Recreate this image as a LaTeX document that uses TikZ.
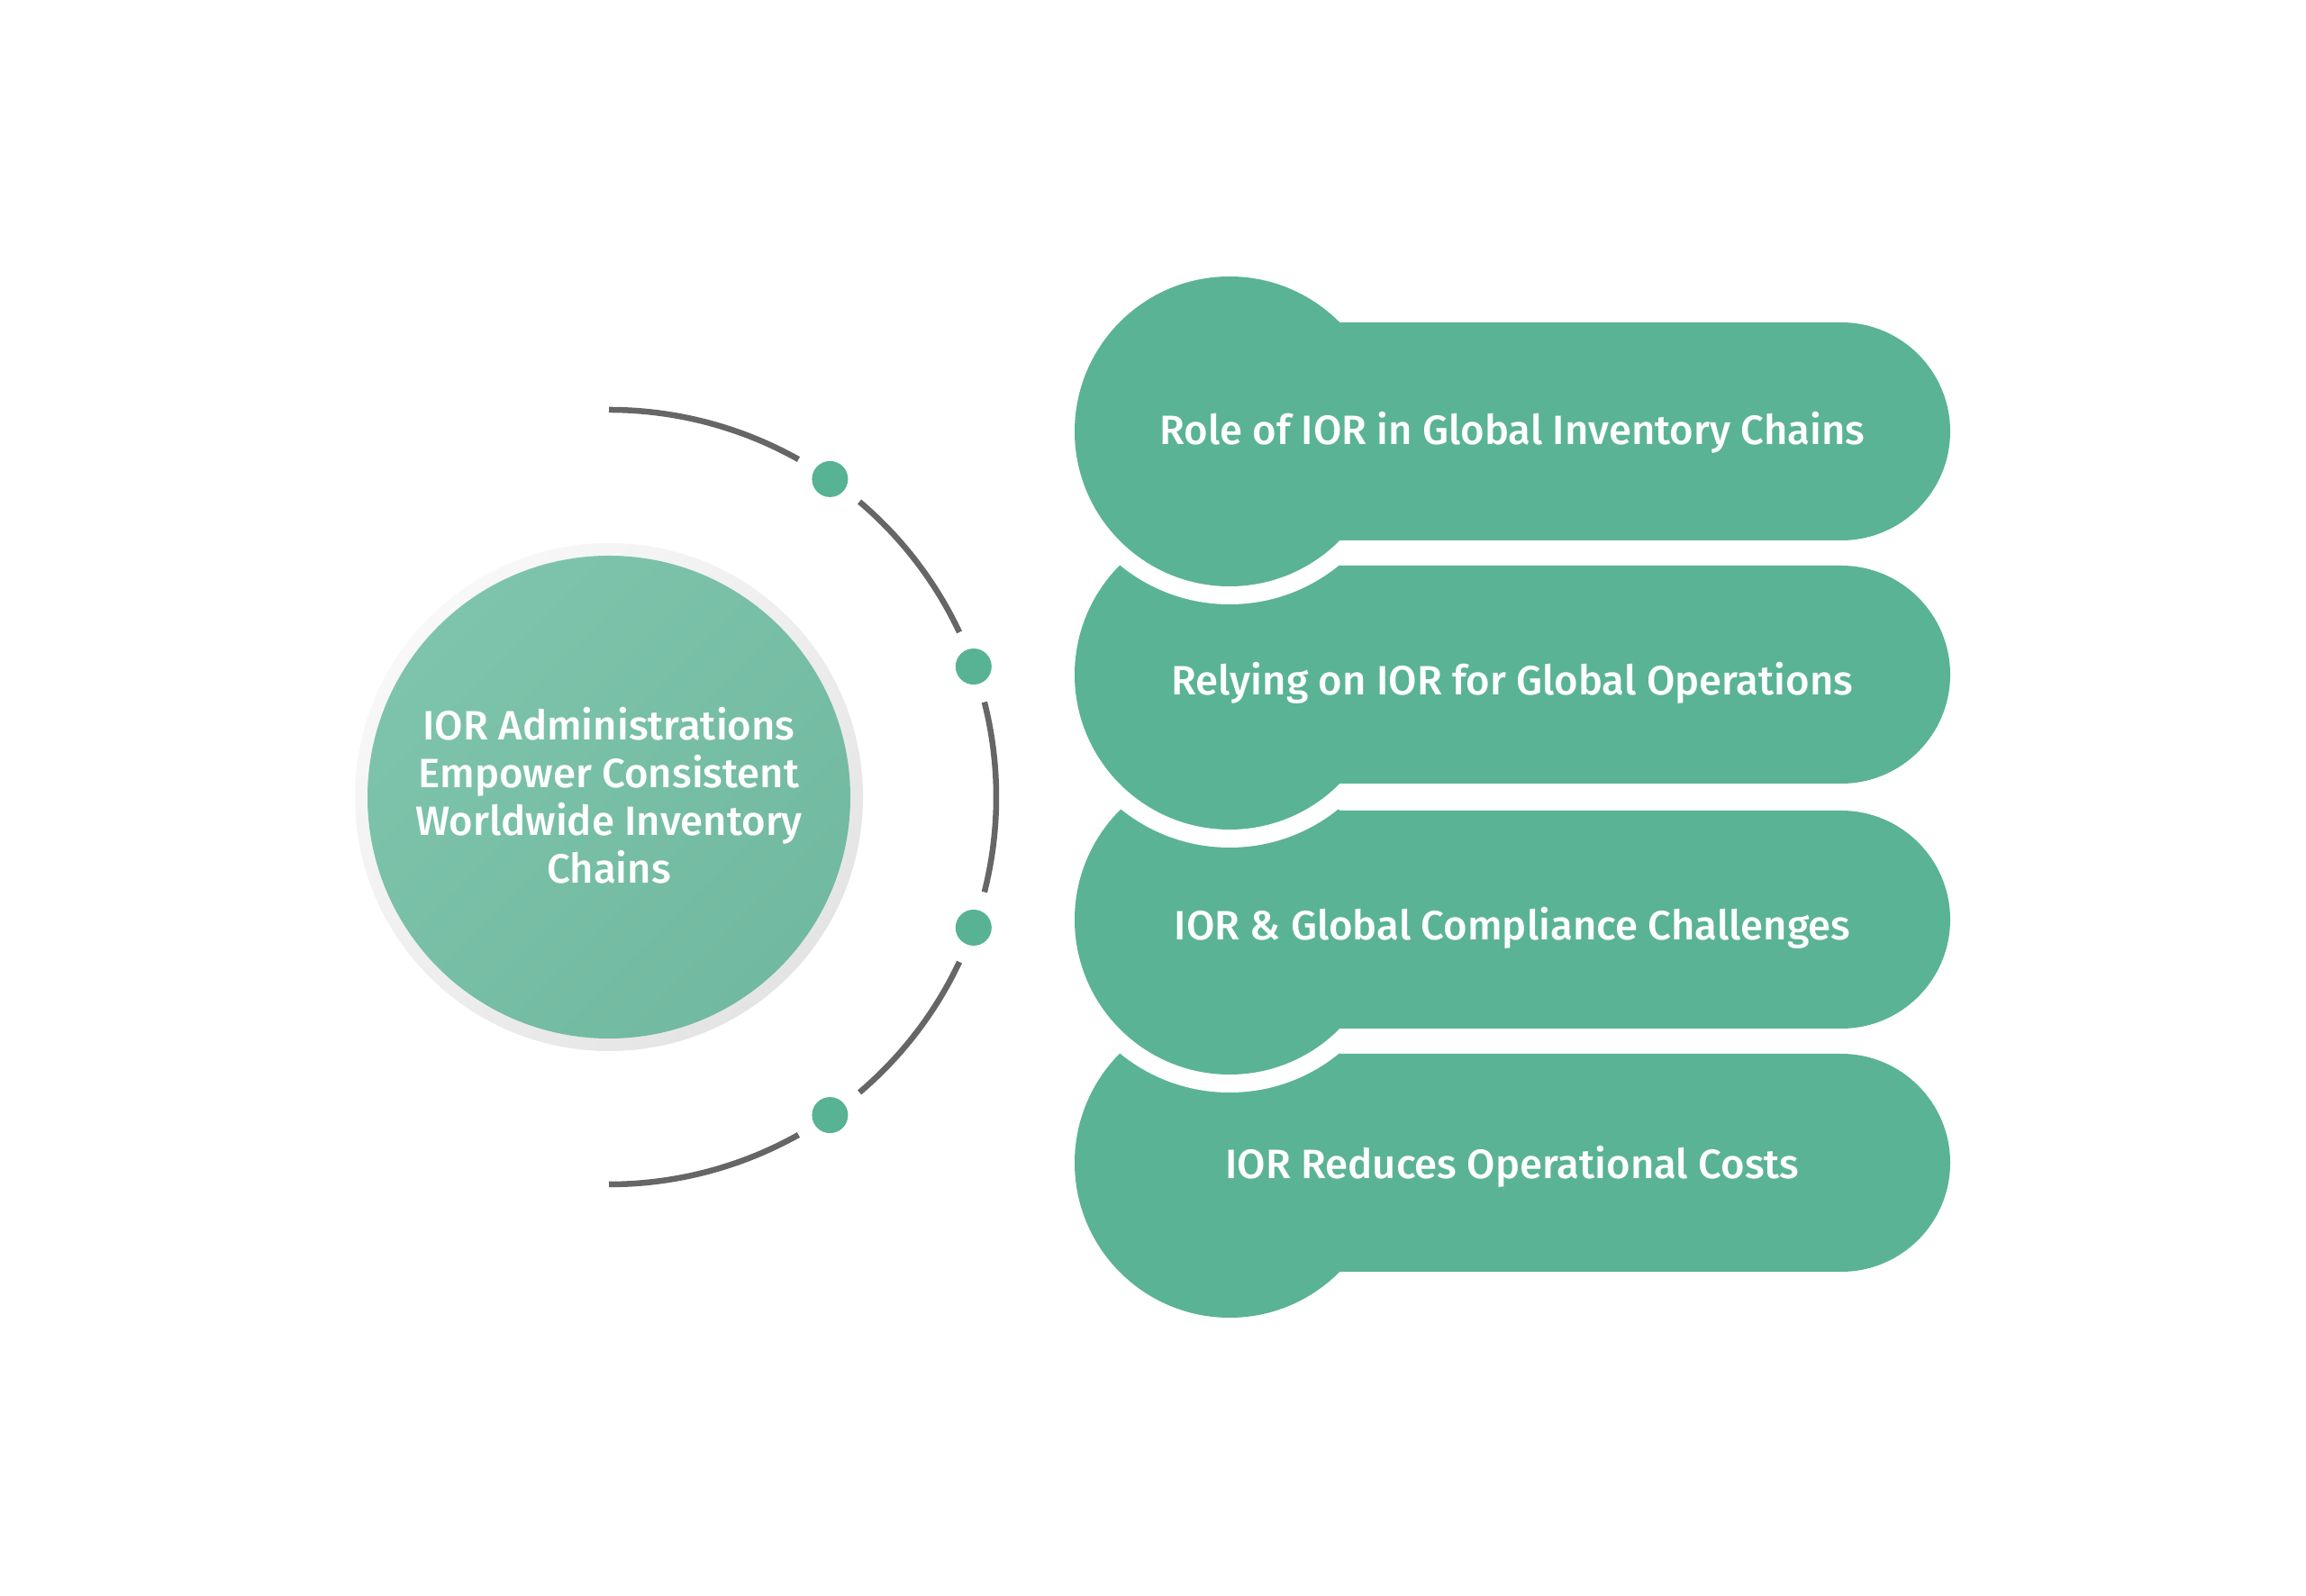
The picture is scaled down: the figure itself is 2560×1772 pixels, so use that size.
\documentclass[tikz,border=0pt]{standalone}
\usepackage{fontspec}
\setmainfont{Fira Sans}[UprightFont=* Medium]
\definecolor{pillgreen}{HTML}{5AB395}
\definecolor{dotgreen}{HTML}{57B393}
\definecolor{circlight}{HTML}{7EC4AC}
\definecolor{circdark}{HTML}{71B9A0}
\definecolor{ringlight}{HTML}{F8F8F8}
\definecolor{ringdark}{HTML}{E4E4E4}
\definecolor{arcgray}{HTML}{666666}
\tikzset{
  arcline/.style={draw=arcgray, line width=6.5pt, line cap=butt},
  dotnode/.style={circle, fill=dotgreen, minimum size=40pt, inner sep=0pt},
  pilltext/.style={text=white, font=\fontsize{45.5}{54}\selectfont, inner sep=0pt, anchor=base},
  hubnode/.style={circle, minimum size=536pt, inner sep=0pt, text=white, align=center, font=\fontsize{45.5}{53}\selectfont}
}
% #1 name, #2 centre y, #3 baseline y, #4 text
\newcommand\mypill[4]{%
  \fill[white] (1365,#2) circle (192);
  \fill[pillgreen] (1365,#2) circle (172);
  \fill[pillgreen] (1365,{#2+121}) -- (2044,{#2+121}) arc[start angle=90,end angle=-90,radius=121] -- (1365,{#2-121}) -- cycle;
  \node[pilltext] (#1) at (1679,#3) {#4};
}
\begin{document}
\begin{tikzpicture}[x=1pt,y=1pt]
\useasboundingbox[fill=white] (0,0) rectangle (2560,1772);
\coordinate (C) at (676,887);
\shade[top color=ringlight, bottom color=ringdark, shading angle=45] (C) circle (282);
\shade[top color=circlight, bottom color=circdark, shading angle=45] (C) circle (268);
\node[hubnode] (hub) at (676,889) {IOR Administrations\\Empower Consistent\\Worldwide Inventory\\Chains};
% arc segments
\draw[arcline] ([shift={(90:430)}]C) arc[start angle=90, end angle=60.7, radius=430];
\draw[arcline] ([shift={(49.7:430)}]C) arc[start angle=49.7, end angle=25.2, radius=430];
\draw[arcline] ([shift={(14.2:430)}]C) arc[start angle=14.2, end angle=-14.2, radius=430];
\draw[arcline] ([shift={(-25.2:430)}]C) arc[start angle=-25.2, end angle=-49.7, radius=430];
\draw[arcline] ([shift={(-60.7:430)}]C) arc[start angle=-60.7, end angle=-90, radius=430];
% dots
\node[dotnode] (d1) at ([shift={(55.2:430)}]C) {};
\node[dotnode] (d2) at ([shift={(19.7:430)}]C) {};
\node[dotnode] (d3) at ([shift={(-19.7:430)}]C) {};
\node[dotnode] (d4) at ([shift={(-55.2:430)}]C) {};
% pills, bottom first
\mypill{p4}{481}{463}{IOR Reduces Operational Costs}
\mypill{p3}{751}{728}{IOR \& Global Compliance Challenges}
\mypill{p2}{1023}{1000}{Relying on IOR for Global Operations}
\mypill{p1}{1293}{1278}{Role of IOR in Global Inventory Chains}
\end{tikzpicture}
\end{document}
